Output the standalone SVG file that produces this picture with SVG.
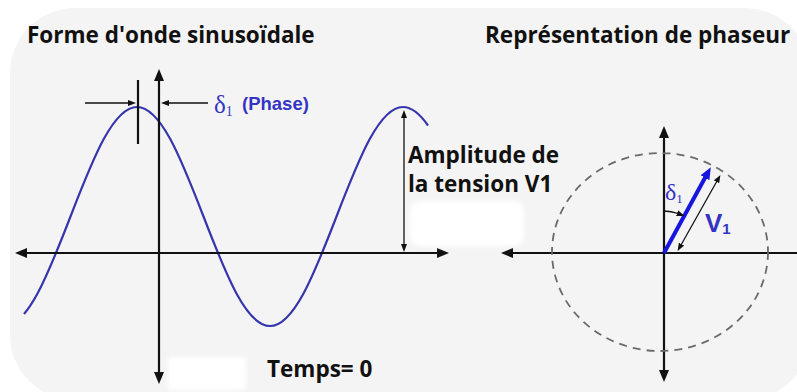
<svg xmlns="http://www.w3.org/2000/svg" width="797" height="392" viewBox="0 0 797 392">
  <defs>
    <marker id="ah" viewBox="0 0 12 10" markerWidth="12" markerHeight="10" refX="1" refY="5" orient="auto-start-reverse" markerUnits="userSpaceOnUse">
      <path d="M0,0 L12,5 L0,10 z" fill="#111"/>
    </marker>
    <marker id="ahs" viewBox="0 0 8 6" markerWidth="8" markerHeight="6" refX="1" refY="3" orient="auto-start-reverse" markerUnits="userSpaceOnUse">
      <path d="M0,0 L8,3 L0,6 z" fill="#111"/>
    </marker>
    <marker id="ahb" viewBox="0 0 12 10" markerWidth="12" markerHeight="10" refX="2" refY="5" orient="auto" markerUnits="userSpaceOnUse">
      <path d="M0,0 L12,5 L0,10 z" fill="#1616e0"/>
    </marker>
    <filter id="soft" x="-20%" y="-20%" width="140%" height="140%">
      <feGaussianBlur stdDeviation="2"/>
    </filter>
    <style>
      .title { font-family: "Open Sans", "Liberation Sans", sans-serif; font-weight: bold; font-size: 22.5px; fill: #111; }
      .lbl { font-family: "Open Sans", "Liberation Sans", sans-serif; font-weight: bold; font-size: 22.5px; fill: #111; }
      .axis { stroke: #111; stroke-width: 2.2; fill: none; }
      .thin { stroke: #111; stroke-width: 1.3; fill: none; }
      .greek { font-family: "Liberation Serif", "DejaVu Serif", serif; fill: #3434c4; }
      .blue-bold { font-family: "Liberation Sans", Arial, sans-serif; font-weight: bold; fill: #3434c4; }
    </style>
  </defs>

  <rect width="797" height="392" fill="#ffffff"/>
  <rect x="10" y="8" width="800" height="392" rx="65" ry="65" fill="#f4f4f4"/>

  <g id="titles">
    <text class="title" x="27" y="43">Forme d'onde sinusoïdale</text>
    <text class="title" x="485" y="43">Représentation de phaseur</text>
  </g>

  <g id="sine-wave">
    <path d="M24,313.98 C28.42,308.78 32.83,302.01 37.25,293.93 C48.33,273.66 59.42,245.17 70.5,216.5 C81.58,187.83 92.67,159.34 103.75,139.07 C114.83,118.8 125.92,107 137,107 C148.08,107 159.17,118.8 170.25,139.07 C181.33,159.34 192.42,187.83 203.5,216.5 C214.58,245.17 225.67,273.66 236.75,293.93 C247.83,314.2 258.92,326 270,326 C281.08,326 292.17,314.2 303.25,293.93 C314.33,273.66 325.42,245.17 336.5,216.5 C347.58,187.83 358.67,159.34 369.75,139.07 C380.83,118.8 391.92,107 403,107 C411.33,107 419.67,113.51 428,125.5" fill="none" stroke="#3535ad" stroke-width="2.2"/>
  </g>

  <g id="connectors">
    <!-- left axes -->
    <line class="axis" x1="26" y1="253" x2="438" y2="253" marker-start="url(#ah)" marker-end="url(#ah)"/>
    <line class="axis" x1="159" y1="80" x2="159" y2="373" marker-start="url(#ah)" marker-end="url(#ah)"/>
    <!-- phase marker -->
    <line class="axis" x1="138" y1="80" x2="138" y2="144"/>
    <line class="thin" x1="85" y1="103" x2="129" y2="103" marker-end="url(#ahs)"/>
    <line class="thin" x1="208" y1="103" x2="168" y2="103" marker-end="url(#ahs)"/>
    <!-- amplitude -->
    <line class="thin" x1="404" y1="117" x2="404" y2="245" marker-start="url(#ahs)" marker-end="url(#ahs)"/>
    <!-- right axes -->
    <line class="axis" x1="512" y1="253" x2="797" y2="253" marker-start="url(#ah)"/>
    <line class="axis" x1="664" y1="137" x2="664" y2="371" marker-start="url(#ah)" marker-end="url(#ah)"/>
    <!-- dashed circle -->
    <ellipse cx="660" cy="252" rx="108" ry="99" fill="none" stroke="#6a6a6a" stroke-width="1.8" stroke-dasharray="8 6"/>
    <!-- phasor -->
    <line x1="664" y1="253" x2="706" y2="176" stroke="#1616e0" stroke-width="4" marker-end="url(#ahb)"/>
    <line class="thin" x1="681" y1="245" x2="717" y2="181" marker-start="url(#ahs)" marker-end="url(#ahs)"/>
    <path d="M664,211 A42,42 0 0 1 678,213.5" class="thin" marker-end="url(#ahs)"/>
  </g>

  <g id="white-patches" filter="url(#soft)">
    <rect x="410" y="201" width="114" height="45" rx="10" fill="#ffffff"/>
    <rect x="168" y="357" width="78" height="33" rx="4" fill="#ffffff"/>
  </g>

  <g id="labels">
    <text class="greek" x="214" y="113" font-size="25">δ<tspan font-size="14" dy="3">1</tspan></text>
    <text class="blue-bold" x="242" y="110" font-size="18.5">(Phase)</text>
    <text class="lbl" x="408" y="163">Amplitude de</text>
    <text class="lbl" x="408" y="192">la tension V1</text>
    <text class="lbl" x="267" y="377">Temps= 0</text>
    <text class="greek" x="665" y="200" font-size="24">δ<tspan font-size="13" dy="3">1</tspan></text>
    <text class="blue-bold" x="705" y="232" font-size="26">V<tspan font-size="15" dy="2">1</tspan></text>
  </g>
</svg>
